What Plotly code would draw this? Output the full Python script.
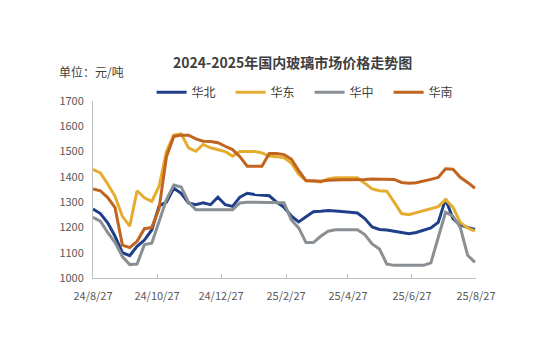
import pandas as pd
import plotly.graph_objects as go

# weekly observations starting 2024-08-27
start_date = "2024-08-27"
n_weeks = 53

huabei = [1273, 1255, 1218, 1165, 1100, 1088, 1125, 1150, 1190, 1285,
          1300, 1355, 1335, 1297, 1290, 1297, 1290, 1320, 1290, 1283,
          1320, 1335, 1330, 1328, 1325, 1300, 1280, 1245, 1222, 1242,
          1262, 1264, 1267, 1265, 1264, 1260, 1257, 1235, 1202, 1192,
          1190, 1185, 1178, 1175, 1180, 1190, 1198, 1220, 1312, 1235,
          1210, 1200, 1192]

huadong = [1430, 1416, 1372, 1323, 1244, 1205, 1345, 1317, 1303, 1363,
           1500, 1565, 1570, 1515, 1501, 1528, 1515, 1508, 1500, 1482,
           1500, 1500, 1500, 1495, 1482, 1480, 1475, 1455, 1410, 1385,
           1383, 1380, 1392, 1396, 1396, 1396, 1396, 1375, 1352, 1345,
           1343, 1300, 1255, 1250, 1258, 1268, 1277, 1282, 1310, 1280,
           1220, 1198, 1185]

huazhong = [1240, 1225, 1180, 1140, 1085, 1053, 1055, 1132, 1138, 1225,
            1310, 1368, 1360, 1300, 1270, 1270, 1270, 1270, 1270, 1270,
            1297, 1300, 1300, 1300, 1300, 1300, 1298, 1230, 1198, 1140,
            1140, 1165, 1185, 1191, 1191, 1191, 1191, 1172, 1135, 1115,
            1055, 1050, 1050, 1050, 1050, 1050, 1060, 1160, 1260, 1245,
            1200, 1090, 1062]

huanan = [1352, 1345, 1318, 1278, 1130, 1120, 1145, 1195, 1200, 1275,
          1480, 1560, 1565, 1565, 1550, 1541, 1540, 1535, 1521, 1508,
          1480, 1442, 1442, 1442, 1492, 1492, 1488, 1470, 1425, 1385,
          1385, 1383, 1387, 1389, 1389, 1389, 1389, 1390, 1392, 1392,
          1390, 1390, 1378, 1375, 1377, 1382, 1390, 1398, 1432, 1430,
          1398, 1378, 1355]

series_names = ["华北", "华东", "华中", "华南"]
series_values = [huabei, huadong, huazhong, huanan]
series_colors = ["#203f8a", "#e5ad30", "#8a8f94", "#c0641f"]

tick_dates = ["2024-08-27", "2024-10-27", "2024-12-27", "2025-02-27",
              "2025-04-27", "2025-06-27", "2025-08-27"]
tick_labels = ["24/8/27", "24/10/27", "24/12/27", "25/2/27",
               "25/4/27", "25/6/27", "25/8/27"]
y_ticks = [1000, 1100, 1200, 1300, 1400, 1500, 1600, 1700]

dates = pd.date_range(start_date, periods=n_weeks, freq="7D")

FONT = "Noto Sans CJK SC"
fig = go.Figure()
for name, vals, col in zip(series_names, series_values, series_colors):
    fig.add_trace(go.Scatter(x=dates, y=vals, name=name, mode="lines",
                             line=dict(color=col, width=3)))

fig.update_layout(
    width=540, height=362,
    margin=dict(l=93, r=64, t=101, b=84),
    paper_bgcolor="white", plot_bgcolor="white",
    font=dict(family=FONT, color="#595959", size=11),
    showlegend=True,
    legend=dict(orientation="h", x=0.153, xanchor="left", y=1.05, yanchor="middle",
                font=dict(size=12, color="#404040", family=FONT),
                entrywidth=34, entrywidthmode="pixels",
                bgcolor="rgba(0,0,0,0)", tracegroupgap=0),
    annotations=[
        dict(text="<b>2024-2025年国内玻璃市场价格走势图</b>", xref="paper", yref="paper",
             x=0.52, y=1.22, xanchor="center", yanchor="middle", showarrow=False,
             font=dict(size=14, color="#404040", family=FONT)),
        dict(text="单位：元/吨", xref="paper", yref="paper",
             x=-0.094, y=1.169, xanchor="left", yanchor="middle", showarrow=False,
             font=dict(size=12, color="#404040", family=FONT)),
    ],
)
fig.update_xaxes(range=["2024-08-27", "2025-08-27"], tickvals=tick_dates, ticktext=tick_labels,
                 showgrid=False, zeroline=False, showline=True, linecolor="#bfbfbf", linewidth=1,
                 ticks="inside", ticklen=4, tickcolor="#bfbfbf", ticklabelstandoff=8,
                 tickfont=dict(size=11, color="#595959"))
fig.update_yaxes(range=[1000, 1700], tickvals=y_ticks, showgrid=False, zeroline=False,
                 showline=True, linecolor="#bfbfbf", linewidth=1, ticks="",
                 ticklabelstandoff=6, tickfont=dict(size=11, color="#595959"))

fig.write_html("out.html")
